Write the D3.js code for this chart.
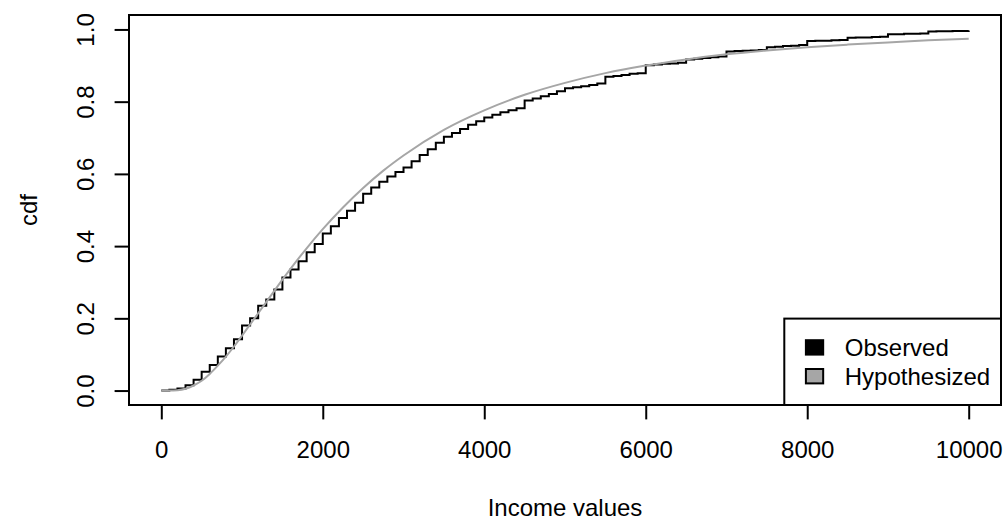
<!DOCTYPE html>
<html>
<head>
<meta charset="utf-8">
<script src="https://cdn.jsdelivr.net/npm/d3@7"></script>
<style>
  html, body { margin: 0; padding: 0; background: #ffffff; }
  svg { display: block; }
  text { font-family: "Liberation Sans", Arial, Helvetica, sans-serif; fill: #000; }
</style>
</head>
<body>
<svg id="chart" width="1006" height="523"></svg>
<script>
// Empirical CDF of observed incomes: jump locations and the cdf level reached there
const incomeBreaks = [
  0, 100, 200, 300, 400, 500, 600, 700, 800, 900,
  1000, 1100, 1200, 1300, 1400, 1500, 1600, 1700, 1800, 1900,
  2000, 2100, 2200, 2300, 2400, 2500, 2600, 2700, 2800, 2900,
  3000, 3100, 3200, 3300, 3400, 3500, 3600, 3700, 3800, 3900,
  4000, 4100, 4200, 4300, 4400, 4500, 4600, 4700, 4800, 4900,
  5000, 5100, 5200, 5300, 5400, 5500, 5600, 5700, 5800, 5900,
  6000, 6100, 6200, 6300, 6400, 6500, 6600, 6700, 6800, 6900,
  7000, 7100, 7200, 7300, 7400, 7500, 7600, 7700, 7800, 7900,
  8000, 8100, 8200, 8300, 8400, 8500, 8600, 8700, 8800, 8900,
  9000, 9100, 9200, 9300, 9400, 9500, 9600, 9700, 9800, 9900,
  10000
];
const observedCdf = [
  0.000, 0.002, 0.006, 0.015, 0.030, 0.052, 0.071, 0.094, 0.117, 0.142,
  0.180, 0.200, 0.235, 0.252, 0.280, 0.313, 0.335, 0.358, 0.383, 0.406,
  0.435, 0.455, 0.478, 0.498, 0.520, 0.545, 0.562, 0.578, 0.593, 0.605,
  0.618, 0.635, 0.652, 0.668, 0.686, 0.703, 0.713, 0.724, 0.736, 0.746,
  0.756, 0.764, 0.771, 0.776, 0.782, 0.803, 0.809, 0.815, 0.821, 0.829,
  0.837, 0.840, 0.843, 0.846, 0.850, 0.869, 0.871, 0.874, 0.877, 0.879,
  0.901, 0.903, 0.905, 0.906, 0.908, 0.917, 0.919, 0.921, 0.923, 0.925,
  0.939, 0.940, 0.941, 0.942, 0.943, 0.951, 0.952, 0.954, 0.955, 0.957,
  0.968, 0.969, 0.969, 0.970, 0.971, 0.977, 0.978, 0.978, 0.979, 0.980,
  0.987, 0.987, 0.988, 0.988, 0.989, 0.994, 0.995, 0.995, 0.996, 0.996,
  0.997
];

// Hypothesized (fitted) cdf sampled along the income range
const fittedIncome = [
  0, 100, 200, 300, 400, 500, 600, 700, 800, 900,
  1000, 1100, 1200, 1300, 1400, 1500, 1600, 1800, 2000, 2250,
  2500, 2750, 3000, 3500, 4000, 4500, 5000, 5500, 6000, 6500,
  7000, 7500, 8000, 8500, 9000, 9500, 10000
];
const fittedCdf = [
  0.000, 0.000, 0.001, 0.005, 0.014, 0.027, 0.046, 0.069, 0.094, 0.122,
  0.152, 0.183, 0.214, 0.245, 0.276, 0.307, 0.337, 0.394, 0.447, 0.507,
  0.561, 0.609, 0.651, 0.722, 0.776, 0.819, 0.852, 0.879, 0.900, 0.917,
  0.931, 0.942, 0.951, 0.958, 0.964, 0.970, 0.974
];

const xTicks = [0, 2000, 4000, 6000, 8000, 10000];
const yTicks = [0, 0.2, 0.4, 0.6, 0.8, 1.0];
const legendLabels = ["Observed", "Hypothesized"];
const legendColors = ["#000000", "#a6a6a6"];

const plot = { left: 129, right: 1001, top: 15, bottom: 405 };
const lineH = 28.8;   // one margin line
const fontPx = 24;

const svg = d3.select("#chart");

// 4% padding on both ends of each axis range
const x = d3.scaleLinear().domain([-400, 10400]).range([plot.left, plot.right]);
const y = d3.scaleLinear().domain([-0.04, 1.04]).range([plot.bottom, plot.top]);

// Curves
const stepLine = d3.line()
  .x(d => x(d[0])).y(d => y(d[1]))
  .curve(d3.curveStepAfter);
svg.append("path")
  .datum(incomeBreaks.map((v, i) => [v, observedCdf[i]]))
  .attr("d", stepLine)
  .attr("fill", "none")
  .attr("stroke", legendColors[0])
  .attr("stroke-width", 2);

const smoothLine = d3.line()
  .x(d => x(d[0])).y(d => y(d[1]))
  .curve(d3.curveMonotoneX);
svg.append("path")
  .datum(fittedIncome.map((v, i) => [v, fittedCdf[i]]))
  .attr("d", smoothLine)
  .attr("fill", "none")
  .attr("stroke", legendColors[1])
  .attr("stroke-width", 2);

// X axis
const xAxis = svg.append("g")
  .attr("transform", `translate(0,${plot.bottom})`)
  .call(d3.axisBottom(x).tickValues(xTicks).tickFormat(d3.format("d")).tickSize(14.4).tickSizeOuter(0));
xAxis.select(".domain").remove();
xAxis.selectAll(".tick line").attr("stroke", "#000").attr("stroke-width", 2);
xAxis.selectAll(".tick text")
  .attr("y", 1.8 * lineH + 1.5).attr("dy", null)
  .attr("font-size", fontPx)
  .attr("font-family", "Liberation Sans, Arial, Helvetica, sans-serif");

// Y axis with labels parallel to the axis
const yAxis = svg.append("g")
  .attr("transform", `translate(${plot.left},0)`)
  .call(d3.axisLeft(y).tickValues(yTicks).tickFormat(d3.format(".1f")).tickSize(14.4).tickSizeOuter(0));
yAxis.select(".domain").remove();
yAxis.selectAll(".tick line").attr("stroke", "#000").attr("stroke-width", 2);
yAxis.selectAll(".tick text")
  .attr("x", null).attr("dy", null).attr("y", 0)
  .attr("text-anchor", "middle")
  .attr("transform", `translate(${-1.2 * lineH},0) rotate(-90)`)
  .attr("font-size", fontPx)
  .attr("font-family", "Liberation Sans, Arial, Helvetica, sans-serif");

// Plot frame
svg.append("rect")
  .attr("x", plot.left).attr("y", plot.top)
  .attr("width", plot.right - plot.left).attr("height", plot.bottom - plot.top)
  .attr("fill", "none").attr("stroke", "#000").attr("stroke-width", 2);

// Axis titles
svg.append("text")
  .attr("x", (plot.left + plot.right) / 2)
  .attr("y", plot.bottom + 3.8 * lineH + 1.5)
  .attr("text-anchor", "middle")
  .attr("font-size", fontPx)
  .text("Income values");
svg.append("text")
  .attr("transform", `translate(${plot.left - 3.2 * lineH},${(plot.top + plot.bottom) / 2}) rotate(-90)`)
  .attr("text-anchor", "middle")
  .attr("font-size", fontPx)
  .text("cdf");

// Legend in the bottom-right corner of the plot
const xchar = 21.6, ychar = lineH;
const textW = d3.max(legendLabels, s => {
  const t = svg.append("text").attr("font-size", fontPx).text(s);
  const w = t.node().getComputedTextLength();
  t.remove();
  return w;
});
const boxW = xchar * 0.8, boxH = ychar * 0.5;
const legW = textW + 2 * xchar + boxW + 0.5 * xchar;
const legH = legendLabels.length * ychar + ychar;
const legLeft = plot.right - legW, legTop = plot.bottom - legH;

const legend = svg.append("g");
legend.append("rect")
  .attr("x", legLeft).attr("y", legTop)
  .attr("width", legW).attr("height", legH)
  .attr("fill", "#fff").attr("stroke", "#000").attr("stroke-width", 2);

legendLabels.forEach((lab, i) => {
  const yc = legTop + ychar * (i + 1);
  legend.append("rect")
    .attr("x", legLeft + xchar).attr("y", yc - boxH / 2)
    .attr("width", boxW).attr("height", boxH)
    .attr("fill", legendColors[i]).attr("stroke", "#000").attr("stroke-width", 2);
  legend.append("text")
    .attr("x", legLeft + xchar + boxW + xchar)
    .attr("y", yc + 8.6)
    .attr("font-size", fontPx)
    .text(lab);
});
</script>
</body>
</html>
